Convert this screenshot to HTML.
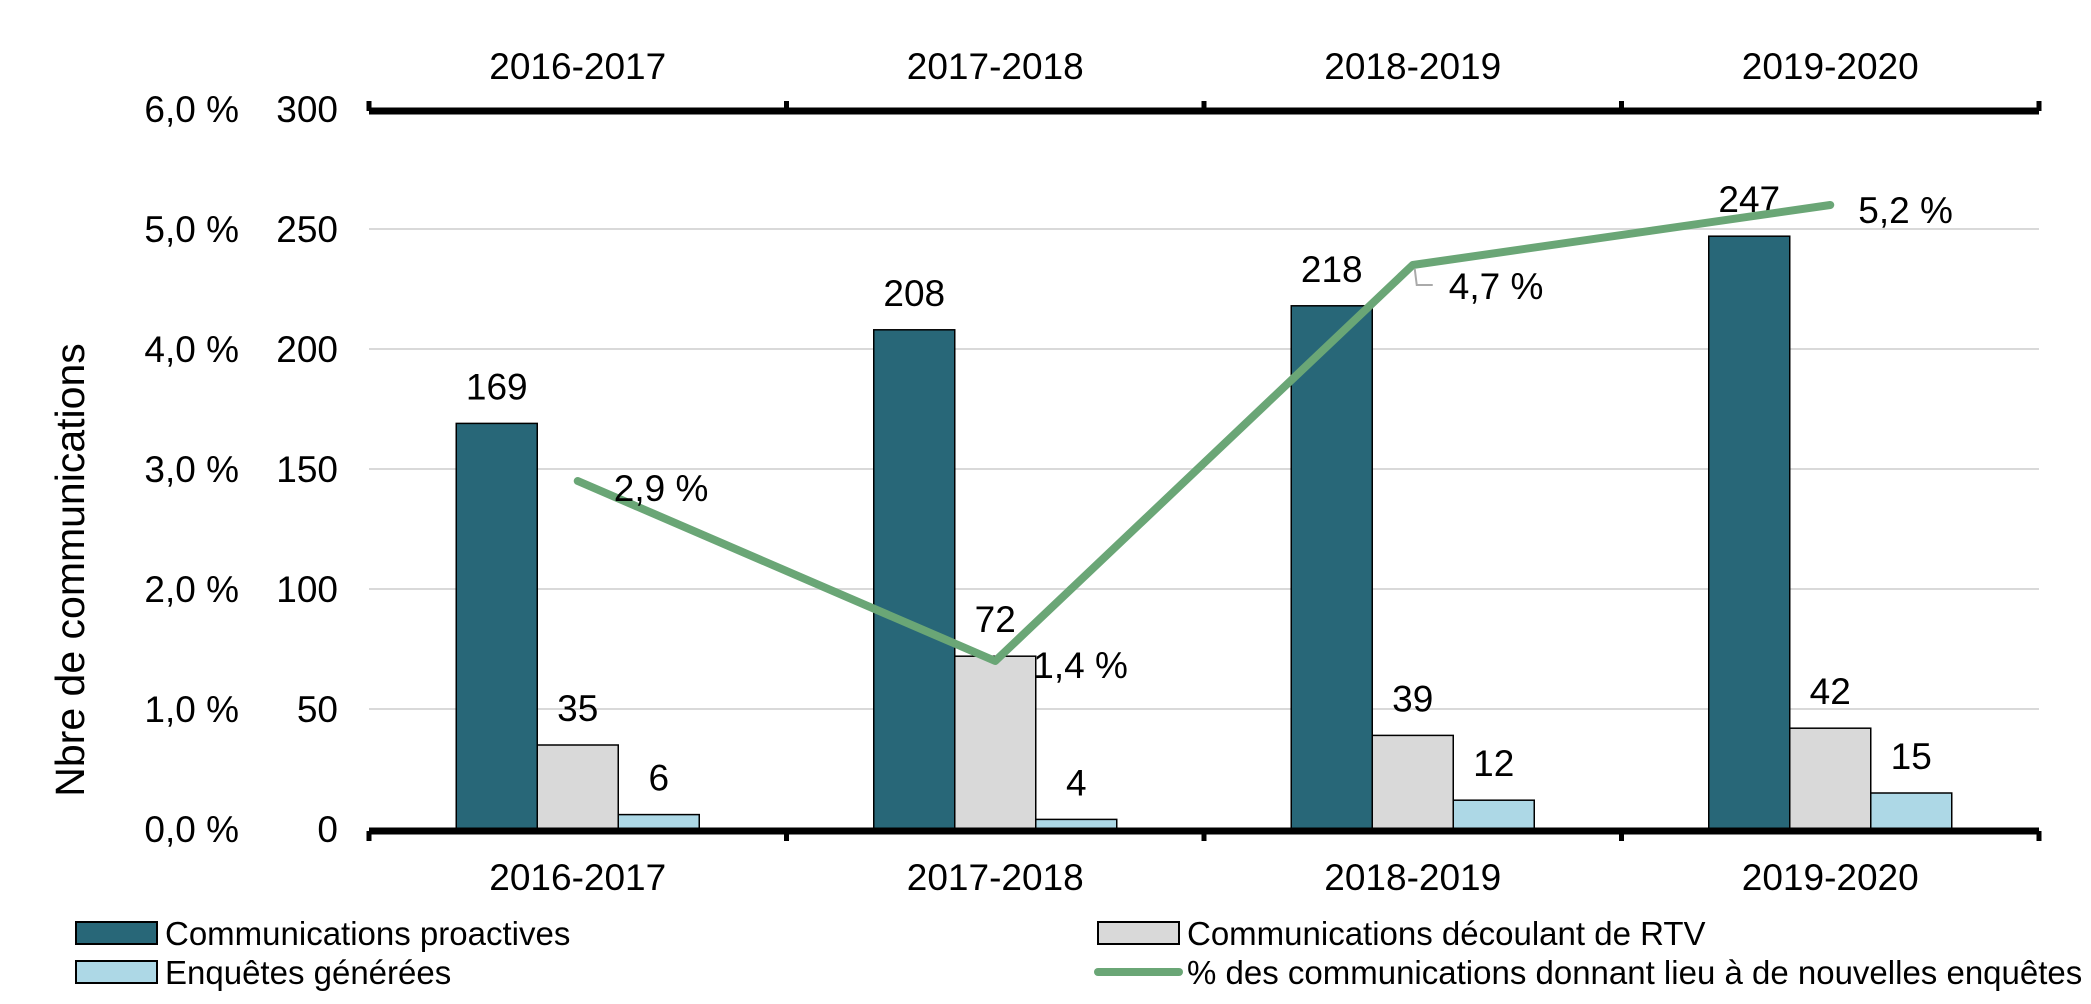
<!DOCTYPE html>
<html><head><meta charset="utf-8">
<style>
html,body{margin:0;padding:0;background:#fff;}
svg{display:block;font-family:"Liberation Sans",Arial,sans-serif;}
</style></head>
<body>
<svg id="chart" width="2091" height="1004" viewBox="0 0 2091 1004" xmlns="http://www.w3.org/2000/svg"></svg>
<script>
const categories = ["2016-2017","2017-2018","2018-2019","2019-2020"];
const proactive = [169,208,218,247];
const rtv = [35,72,39,42];
const enquetes = [6,4,12,15];
const pct = [2.9,1.4,4.7,5.2];
const pctLabels = ["2,9 %","1,4 %","4,7 %","5,2 %"];
const leftTicks = [0,50,100,150,200,250,300];
const rightTicks = ["0,0 %","1,0 %","2,0 %","3,0 %","4,0 %","5,0 %","6,0 %"];

const svg = document.getElementById('chart');
const NS = 'http://www.w3.org/2000/svg';
const X0 = 369, X1 = 2039, Y0 = 829, YTOP = 109;
const band = (X1 - X0) / categories.length;
const barW = 81;
function y(v){ return Y0 - (v/300)*(Y0-YTOP); }
function yp(p){ return Y0 - (p/6)*(Y0-YTOP); }
function xc(i){ return X0 + band*(i+0.5); }
function mk(tag, attrs, parent){
  const e = document.createElementNS(NS, tag);
  for (const k in attrs) e.setAttribute(k, attrs[k]);
  (parent||svg).appendChild(e);
  return e;
}
function txt(s, attrs, parent){
  const e = mk('text', Object.assign({'font-size':37, fill:'#000'}, attrs), parent);
  e.textContent = s;
  return e;
}

// gridlines
leftTicks.forEach((t,i)=>{
  if (t>0 && t<300) {
    const g = mk('line',{x1:X0,x2:X1,y1:y(t),y2:y(t),stroke:'#d9d9d9','stroke-width':2});
    
    
  }
  const l = txt(String(t),{x:338,y:y(t)+13,'text-anchor':'end'});
  
  
  const r = txt(rightTicks[i],{x:239,y:y(t)+13,'text-anchor':'end'});
  
  
});

// bars
const series = [[proactive,'#286778','proactive-bar'],[rtv,'#d9d9d9','rtv-bar'],[enquetes,'#add8e6','enquetes-bar']];
categories.forEach((c,i)=>{
  const start = xc(i) - 1.5*barW;
  series.forEach((s,j)=>{
    const v = s[0][i];
    const bx = start + j*barW;
    const b = mk('rect',{x:bx,y:y(v),width:barW,height:Y0-y(v),fill:s[1],stroke:'#000','stroke-width':1.5});
    
    
    const lb = txt(String(v),{x:bx+barW/2,y:y(v)-24,'text-anchor':'middle'});
    
    
  });
});

// axes
[[Y0+2,'bottom-axis'],[YTOP+2,'top-axis']].forEach(a=>{
  const ax = mk('line',{x1:X0,x2:X1,y1:a[0],y2:a[0],stroke:'#000','stroke-width':7});
  
  
  for (let i=0;i<=categories.length;i++){
    const tx = X0 + band*i;
    const tk = mk('line',{x1:tx,x2:tx,y1:a[1]==='top-axis'?a[0]-10:a[0],y2:a[1]==='top-axis'?a[0]:a[0]+10,stroke:'#000','stroke-width':5});
    
    
  }
});
categories.forEach((c,i)=>{
  const b = txt(c,{x:xc(i),y:890,'text-anchor':'middle'});
  
  
  const t = txt(c,{x:xc(i),y:79,'text-anchor':'middle'});
  
  
});

// line
const pts = pct.map((p,i)=>xc(i)+','+yp(p)).join(' ');
const pl = mk('polyline',{points:pts,fill:'none',stroke:'#6aa676','stroke-width':8,'stroke-linejoin':'round','stroke-linecap':'round'});


const offs = [[36,8],[38,5],[36,22],[28,6]];
pct.forEach((p,i)=>{
  if (i===2){
    const ld = mk('polyline',{points:`${xc(i)+2},${yp(p)+4} ${xc(i)+4},${yp(p)+20} ${xc(i)+20},${yp(p)+20}`,fill:'none',stroke:'#aaa','stroke-width':2});
    
    
  }
  const l = txt(pctLabels[i],{x:xc(i)+offs[i][0],y:yp(p)+offs[i][1]+12});
  
  
});

// y axis title
const yt = txt('Nbre de communications',{x:0,y:0,'text-anchor':'middle',transform:'translate(84,570) rotate(-90)','font-size':41});



// legend
const leg = [
  [76,933,'#286778','Communications proactives','legend-proactive'],
  [1098,933,'#d9d9d9','Communications découlant de RTV','legend-rtv'],
  [76,972,'#add8e6','Enquêtes générées','legend-enquetes']
];
leg.forEach(l=>{
  const s = mk('rect',{x:l[0],y:l[1]-11,width:81,height:22,fill:l[2],stroke:'#000','stroke-width':2});
  
  
  const t = txt(l[3],{x:l[0]+89,y:l[1]+12,'font-size':33});
  
  
});
const gl = mk('line',{x1:1098,x2:1179,y1:972,y2:972,stroke:'#6aa676','stroke-width':8,'stroke-linecap':'round'});


const gt = txt('% des communications donnant lieu à de nouvelles enquêtes',{x:1187,y:984,'font-size':33});


</script>
</body></html>
